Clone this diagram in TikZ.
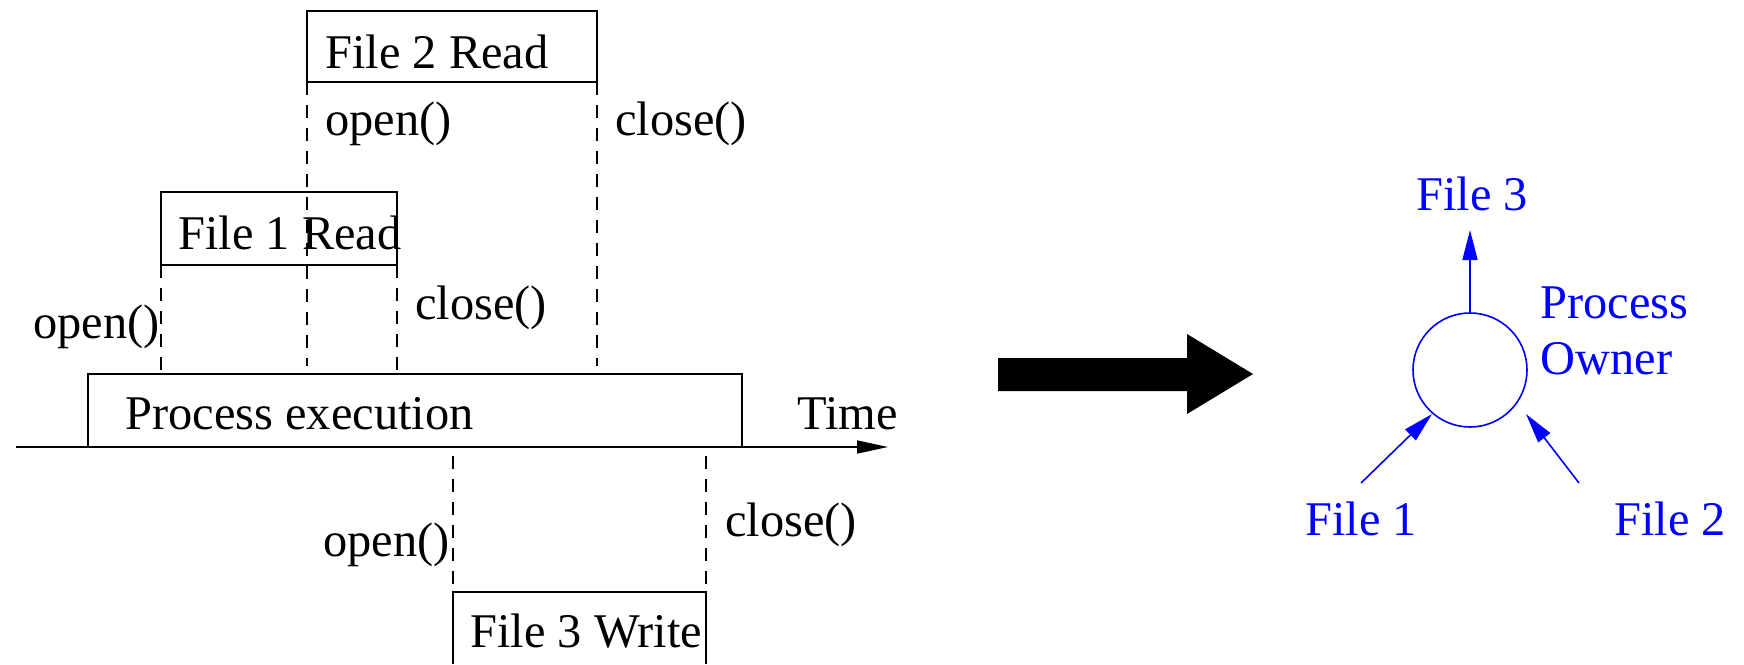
\documentclass[tikz,border=0pt]{standalone}
\usepackage{fontspec}
\setmainfont{Liberation Serif}
\usetikzlibrary{arrows.meta}
\definecolor{ownerblue}{RGB}{0,0,255}
\tikzset{
  lbl/.style={inner sep=0pt, anchor=base west, font=\fontsize{24.2}{29}\selectfont},
  blbl/.style={inner sep=0pt, anchor=base, font=\fontsize{24.2}{29}\selectfont, text=ownerblue},
  thin line/.style={line width=0.8pt},
  dashline/.style={line width=0.8pt, dash pattern=on 6.5pt off 5pt},
  bluearrow/.style={draw=ownerblue, line width=0.8pt, -{Triangle[length=15pt,width=7.5pt]}, fill=ownerblue},
}
\begin{document}
\begin{tikzpicture}[x=0.5pt,y=-0.5pt]
\useasboundingbox (0,0) rectangle (1744,664);
% File 2 Read
\draw[thin line] (307,82) -- (307,11) -- (597,11) -- (597,82) -- cycle;
\node[lbl] (f2r) at (325,68) {File 2 Read};
\coordinate (d1a) at (307,82); \coordinate (d1b) at (307,366);
\coordinate (d2a) at (597,82); \coordinate (d2b) at (597,366);
\draw[dashline] (d1a) -- (d1b);
\draw[dashline] (d2a) -- (d2b);
\node[lbl] (o2) at (325,135) {open()};
\node[lbl] (c2) at (615,135) {close()};
% File 1 Read
\draw[thin line] (161,265) -- (161,192) -- (397,192) -- (397,265) -- cycle;
\node[lbl] (f1r) at (178,249) {File 1 Read};
\coordinate (d3a) at (161,265); \coordinate (d3b) at (161,370);
\coordinate (d4a) at (397,265); \coordinate (d4b) at (397,370);
\draw[dashline] (d3a) -- (d3b);
\draw[dashline] (d4a) -- (d4b);
\node[lbl] (o1) at (33,338) {open()};
\node[lbl] (c1) at (415,319) {close()};
% Process execution
\draw[thin line] (88,447) -- (88,374) -- (742,374) -- (742,447);
\node[lbl] (pe) at (125,429) {Process execution};
\coordinate (t0) at (16,447); \coordinate (t1) at (888,447);
\draw[thin line, -{Triangle[length=15.5pt,width=6.5pt]}] (t0) -- (t1);
\node[lbl] (time) at (797,429) {Time};
% File 3 Write
\coordinate (d5a) at (453,456); \coordinate (d5b) at (453,592);
\coordinate (d6a) at (706,456); \coordinate (d6b) at (706,592);
\draw[dashline] (d5a) -- (d5b);
\draw[dashline] (d6a) -- (d6b);
\node[lbl, anchor=base east] (o3) at (450,556) {open()};
\node[lbl] (c3) at (725,536) {close()};
\draw[thin line] (453,664) -- (453,592) -- (706,592) -- (706,664);
\node[lbl] (f3w) at (470,647) {File 3 Write};
% Big arrow
\fill[black] (998,358) -- (1187,358) -- (1187,334) -- (1253,374) -- (1187,414) -- (1187,391) -- (998,391) -- cycle;
% Process owner
\node[draw=ownerblue, line width=0.8pt, circle, minimum size=57pt, inner sep=0pt] (po) at (1470,370) {};
\node[blbl] (f3) at (1472,210) {File 3};
\node[lbl, text=ownerblue] (pown) at (1540,318) {Process};
\node[lbl, text=ownerblue] (pown2) at (1540,374) {Owner};
\node[blbl] (f1) at (1361,535) {File 1};
\node[blbl] (f2) at (1670,535) {File 2};
\coordinate (u1) at (1470,230);
\coordinate (a1) at (1361,483); \coordinate (a1e) at (1432,414);
\coordinate (a2) at (1579,483); \coordinate (a2e) at (1526,414);
\draw[bluearrow] (po.north) -- (u1);
\draw[bluearrow] (a1) -- (a1e);
\draw[bluearrow] (a2) -- (a2e);
\end{tikzpicture}
\end{document}
